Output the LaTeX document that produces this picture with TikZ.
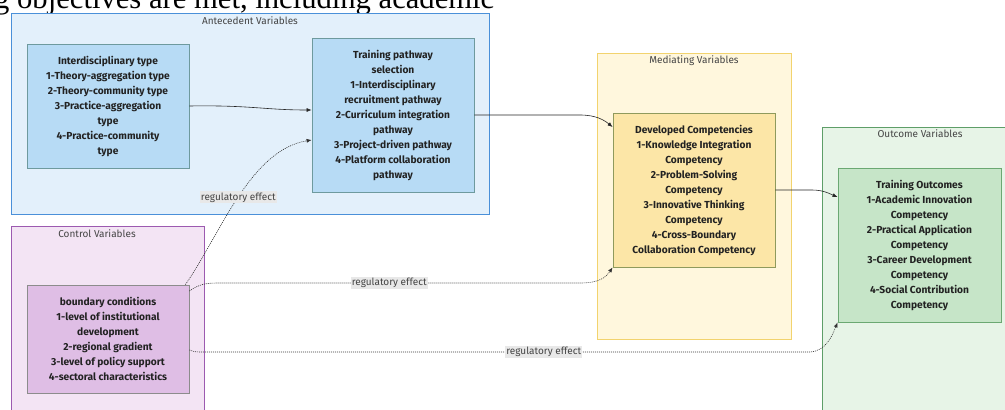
\documentclass[tikz,border=0pt]{standalone}
\usepackage{fontspec}
\setmainfont{Fira Sans}
\newfontfamily\headserif{Liberation Serif}
\usetikzlibrary{arrows.meta}
\definecolor{anteFill}{HTML}{E3F0FB}
\definecolor{anteDraw}{HTML}{4A90D9}
\definecolor{interFill}{HTML}{B7DBF5}
\definecolor{interDraw}{HTML}{6E9A9E}
\definecolor{ctrlFill}{HTML}{F3E4F4}
\definecolor{ctrlDraw}{HTML}{9C5AB0}
\definecolor{boundFill}{HTML}{DFBEE5}
\definecolor{boundDraw}{HTML}{8C8C8C}
\definecolor{medFill}{HTML}{FFF7DD}
\definecolor{medDraw}{HTML}{F2D36E}
\definecolor{devFill}{HTML}{FCE6A7}
\definecolor{devDraw}{HTML}{8F9A5C}
\definecolor{outFill}{HTML}{E7F4E7}
\definecolor{outDraw}{HTML}{5E9E68}
\definecolor{toFill}{HTML}{C6E5C8}
\definecolor{toDraw}{HTML}{6BA872}
\definecolor{lblFill}{HTML}{E8E8E8}
\definecolor{txt}{HTML}{222222}
\definecolor{ttlTxt}{HTML}{444444}
\begin{document}
\begin{tikzpicture}[x=1pt,y=-1pt,
  cont/.style={draw, line width=1pt, inner sep=0pt},
  ttl/.style={font=\fontsize{10}{12}\selectfont, text=ttlTxt, inner sep=1pt},
  vbox/.style={draw, line width=0.8pt, align=center, text=txt,
    font=\bfseries\fontsize{10.2}{15}\selectfont, minimum width=162pt, inner sep=0pt},
  solidedge/.style={line width=0.6pt, draw=black!85, -{Latex[length=5pt,width=4pt]}},
  reg/.style={line width=0.6pt, draw=black!80, dash pattern=on 1pt off 1pt, -{Latex[length=5pt,width=4pt]}},
  lbl/.style={fill=lblFill, text=ttlTxt, font=\fontsize{10}{12}\selectfont, inner sep=1.2pt, solid}
]
\clip (0,0) rectangle (1005,410);
\fill[white] (0,0) rectangle (1005,410);

% clipped heading text of the page
\node[anchor=base west, inner sep=0pt, text=black] (head) at (-6,8.5)
  {\resizebox{500pt}{!}{\headserif g objectives are met, including academic}};

% containers
\node[cont, fill=anteFill, draw=anteDraw, minimum width=478pt, minimum height=201pt] (anteC) at (250,113.5) {};
\node[cont, fill=ctrlFill, draw=ctrlDraw, minimum width=193pt, minimum height=200pt] (ctrlC) at (107.5,326) {};
\node[cont, fill=medFill, draw=medDraw, minimum width=194pt, minimum height=286pt] (medC) at (694,196) {};
\node[cont, fill=outFill, draw=outDraw, minimum width=200pt, minimum height=300pt] (outC) at (922,277) {};

\node[ttl] (anteT) at (250,21) {Antecedent Variables};
\node[ttl] (ctrlT) at (97,234) {Control Variables};
\node[ttl] (medT) at (694,61) {Mediating Variables};
\node[ttl] (outT) at (920,134) {Outcome Variables};

% boxes
\node[vbox, fill=interFill, draw=interDraw, minimum height=124pt] (inter) at (108,106)
  {Interdisciplinary type\\1-Theory-aggregation type\\2-Theory-community type\\3-Practice-aggregation\\type\\4-Practice-community\\type};
\node[vbox, fill=interFill, draw=interDraw, minimum height=154pt] (path) at (393,115)
  {Training pathway\\selection\\1-Interdisciplinary\\recruitment pathway\\2-Curriculum integration\\pathway\\3-Project-driven pathway\\4-Platform collaboration\\pathway};
\node[vbox, fill=devFill, draw=devDraw, minimum height=154pt] (dev) at (694,190)
  {Developed Competencies\\1-Knowledge Integration\\Competency\\2-Problem-Solving\\Competency\\3-Innovative Thinking\\Competency\\4-Cross-Boundary\\Collaboration Competency};
\node[vbox, fill=toFill, draw=toDraw, minimum height=154pt, minimum width=163pt] (out) at (919.5,245)
  {Training Outcomes\\1-Academic Innovation\\Competency\\2-Practical Application\\Competency\\3-Career Development\\Competency\\4-Social Contribution\\Competency};
\node[vbox, fill=boundFill, draw=boundDraw, minimum height=108pt] (bound) at (108,339)
  {boundary conditions\\1-level of institutional\\development\\2-regional gradient\\3-level of policy support\\4-sectoral characteristics};

% solid edges
\draw[solidedge] (inter.east) .. controls (250,105) and (265,110) .. ([yshift=5pt]path.west);
\draw[solidedge] (path.east) -- (580,115) .. controls (596,115) and (604,120) .. ([yshift=63pt]dev.west);
\draw[solidedge] (dev.east) -- (812,190) .. controls (824,190) and (830,194) .. ([yshift=48pt]out.west);

% regulatory edges
\draw[reg] ([xshift=-4pt]bound.north east) .. controls (220,235) and (250,150) .. node[lbl, pos=0.5] (l1) {regulatory effect} ([yshift=-25pt]path.west);
\draw[reg] ([yshift=48pt]bound.east) .. controls (200,284) and (205,283) .. (220,283) -- node[lbl, pos=0.47] (l2) {regulatory effect} (580,283) .. controls (600,283) and (606,277) .. (dev.south west);
\draw[reg] ([yshift=-11pt]bound.east) .. controls (195,352) .. (205,352) -- node[lbl, pos=0.56] (l3) {regulatory effect} (810,352) .. controls (826,351) and (832,336) .. (out.south west);
\end{tikzpicture}
\end{document}
